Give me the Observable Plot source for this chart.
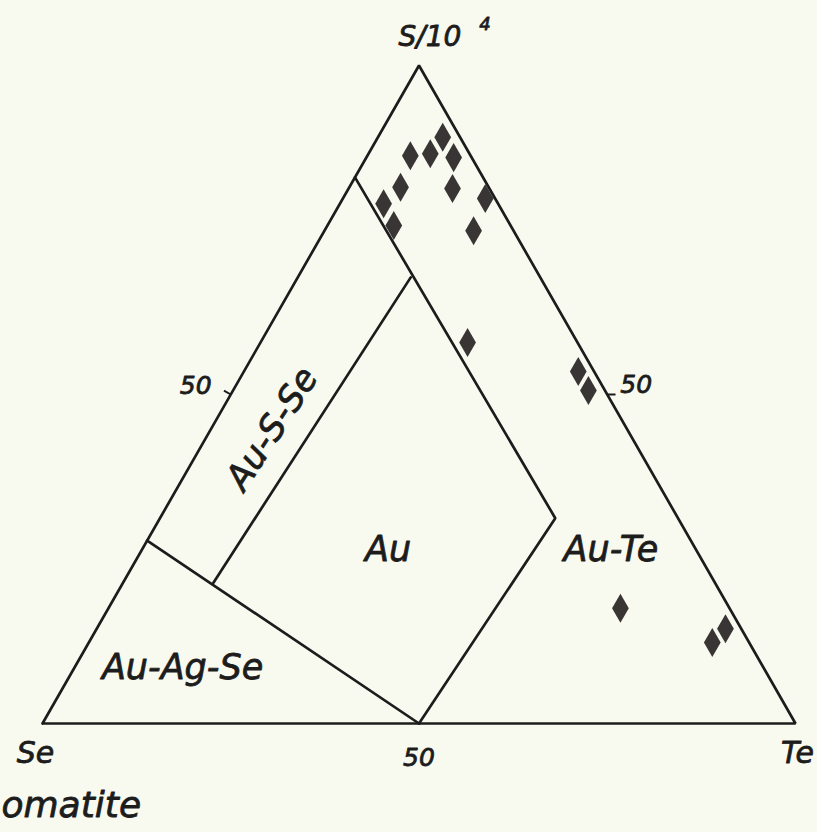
<!DOCTYPE html>
<html>
<head>
<meta charset="utf-8">
<script src="https://cdn.jsdelivr.net/npm/d3@7"></script>
<script src="https://cdn.jsdelivr.net/npm/@observablehq/plot@0.6"></script>
<style>
  html, body { margin: 0; padding: 0; background: #f8f9ef; }
  #chart svg { display: block; }
</style>
</head>
<body>
<div id="chart"></div>
<script>
// ---- Data (ternary: S/10^4 %, Te %; Se = 100 - S - Te) ----
const vertexNames = ["Se", "Te", "S/10"];
const vertexS  = [0, 0, 100];
const vertexTe = [0, 100, 0];

// Sample compositions (diamonds)
const sampleS  = [86.3, 86.6, 89.1, 86.0, 81.3, 81.5, 79.0, 75.7, 79.8, 74.9, 57.9, 53.5, 50.6, 17.5, 12.3, 14.4];
const sampleTe = [ 5.7,  8.2,  8.6, 11.6, 13.8,  6.8,  5.8,  8.8, 18.9, 19.8, 27.5, 44.4, 47.2, 68.0, 82.8, 83.5];

// Field boundaries (polyline vertices)
const boundaryId = ["A", "A", "B", "B", "C", "C", "C"];
const boundaryS  = [27.8, 0, 21.4, 67.8, 83.0, 31.2, 0];
const boundaryTe = [0, 50, 12.0, 15.0, 0, 52.5, 50];

// Field names and their label anchors
const fieldNames = ["Au-S-Se", "Au", "Au-Te", "Au-Ag-Se"];
const fieldS  = [44.8, 26.4, 26.4, 8.4];
const fieldTe = [8.1, 32.7, 62.3, 14.4];

// Edge tick labels
const tickLabels = ["50", "50", "50"];
const tickS  = [50, 50, 0];
const tickTe = [0, 50, 50];

const captionText = "omatite";

// ---- helpers ----
const tx = (s, t) => t / 100 + s / 200;
const ty = (s) => s / 100;
const BG = "#f8f9ef";
const INK = "#1c1c1c";
const FONT = "DejaVu Sans";

const outline = [0, 1, 2, 0].map(i => ({x: tx(vertexS[i], vertexTe[i]), y: ty(vertexS[i])}));
const samples = sampleS.map((s, i) => ({x: tx(s, sampleTe[i]), y: ty(s)}));
const boundaries = boundaryId.map((id, i) => ({id, x: tx(boundaryS[i], boundaryTe[i]), y: ty(boundaryS[i])}));
const fields = fieldNames.map((name, i) => ({name, x: tx(fieldS[i], fieldTe[i]), y: ty(fieldS[i])}));
const ticks = tickLabels.map((label, i) => ({label, x: tx(tickS[i], tickTe[i]), y: ty(tickS[i])}));
const verts = vertexNames.map((name, i) => ({name, x: tx(vertexS[i], vertexTe[i]), y: ty(vertexS[i])}));

const txt = (data, opts) => Plot.text(data, Object.assign({
  x: "x", y: "y", fill: INK, stroke: INK, strokeWidth: 0.8,
  fontStyle: "italic", fontFamily: FONT
}, opts));

const chart = Plot.plot({
  width: 817,
  height: 832,
  margin: 0,
  x: {domain: [0, 1], range: [42, 795], axis: null},
  y: {domain: [0, 1], range: [723, 65], axis: null},
  style: {background: BG, fontFamily: FONT, color: INK},
  marks: [
    Plot.line(outline, {x: "x", y: "y", stroke: INK, strokeWidth: 2.7, strokeLinejoin: "miter"}),
    Plot.line(boundaries, {x: "x", y: "y", z: "id", stroke: INK, strokeWidth: 2.7, strokeLinejoin: "miter"}),
    // small ticks at 50 on the two sloping edges
    Plot.link([ticks[0]], {x1: "x", y1: "y", x2: d => d.x - 0.009, y2: d => d.y + 0.006, stroke: INK, strokeWidth: 2}),
    Plot.link([ticks[1]], {x1: "x", y1: "y", x2: d => d.x + 0.011, y2: "y", stroke: INK, strokeWidth: 2}),
    Plot.dot(samples, {x: "x", y: "y", symbol: "diamond", r: 8.8, fill: "#3a3535", stroke: "none"}),
    // field labels
    txt([fields[0]], {text: "name", fontSize: 35, rotate: -57}),
    txt(fields.slice(1), {text: "name", fontSize: 35}),
    // vertex labels
    txt([verts[0]], {text: "name", fontSize: 30, dx: -7, dy: 30}),
    txt([verts[1]], {text: "name", fontSize: 30, dx: 2, dy: 30}),
    txt([verts[2]], {text: "name", fontSize: 28, dx: 11, dy: -28}),
    txt([verts[2]], {text: () => "4", fontSize: 18, dx: 66, dy: -41}),
    // tick labels
    txt([ticks[0]], {text: "label", fontSize: 25, dx: -35, dy: -9}),
    txt([ticks[1]], {text: "label", fontSize: 25, dx: 29, dy: -10}),
    txt([ticks[2]], {text: "label", fontSize: 25, dx: 0, dy: 34}),
    // caption fragment at bottom-left
    Plot.text([captionText], {text: d => d, frameAnchor: "bottom-left", textAnchor: "start",
      dx: 1, dy: -16, fontSize: 36, fontStyle: "italic", fontFamily: FONT,
      fill: INK, stroke: INK, strokeWidth: 0.8})
  ]
});
document.getElementById("chart").appendChild(chart);
</script>
</body>
</html>
